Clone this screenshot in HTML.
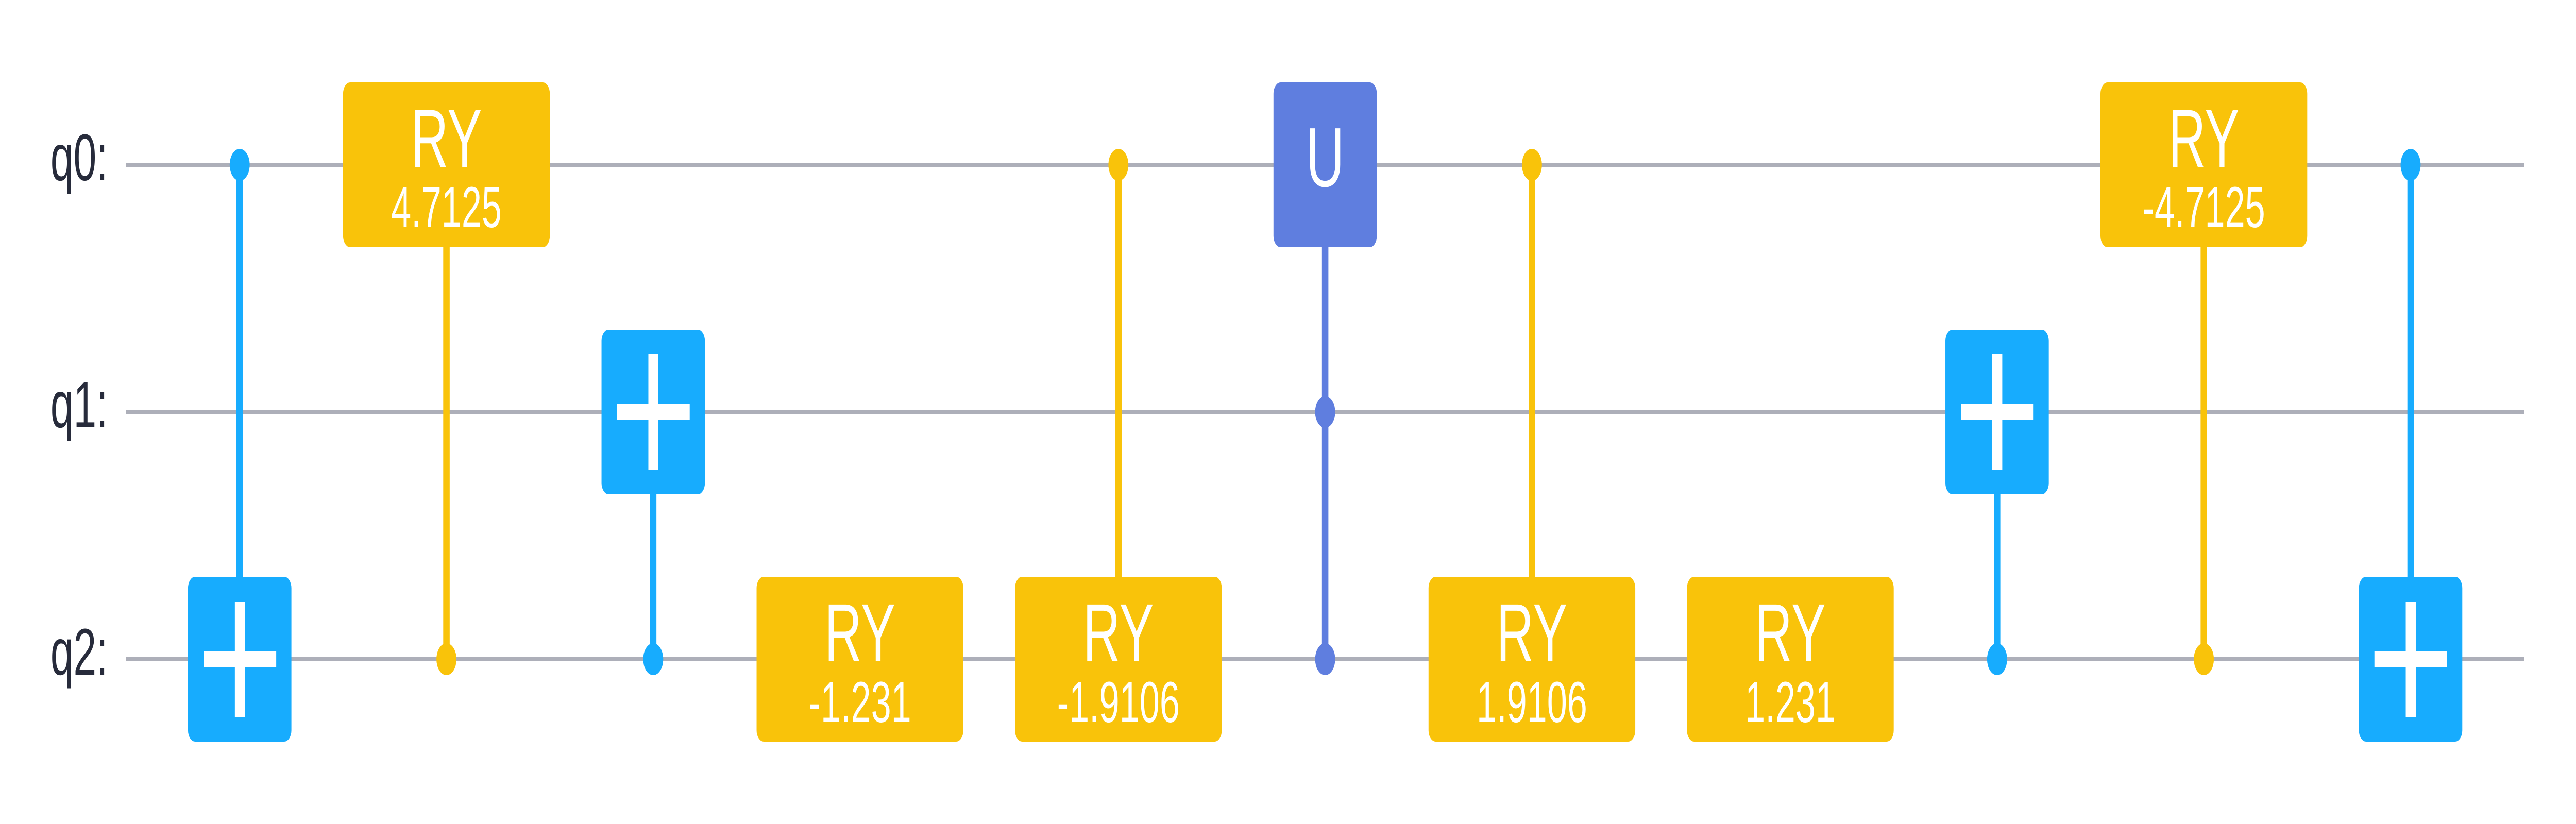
<!DOCTYPE html>
<html><head><meta charset="utf-8"><style>
html,body{margin:0;padding:0;background:#fff;width:100%;height:100%;overflow:hidden;}
svg{display:block;width:100vw;height:100vh;}
text{font-family:"Liberation Sans",sans-serif;}
</style></head><body>
<svg viewBox="0 0 7974 1600" preserveAspectRatio="none" xmlns="http://www.w3.org/2000/svg">
<rect width="7974" height="1600" fill="#fff"/>
<g stroke="#ADAFB9" stroke-width="8">
<line x1="390" y1="320" x2="7813" y2="320"/>
<line x1="390" y1="800" x2="7813" y2="800"/>
<line x1="390" y1="1280" x2="7813" y2="1280"/>
</g>
<g fill="#272B3B" font-size="128" text-anchor="end">
<text x="334" y="350">q0:</text>
<text x="334" y="830">q1:</text>
<text x="334" y="1310">q2:</text>
</g>
<g stroke-width="20">
<line x1="742" y1="320" x2="742" y2="1130" stroke="#17ACFE"/>
<line x1="1382" y1="470" x2="1382" y2="1280" stroke="#F9C30A"/>
<line x1="2022" y1="790" x2="2022" y2="1280" stroke="#17ACFE"/>
<line x1="3462" y1="320" x2="3462" y2="1130" stroke="#F9C30A"/>
<line x1="4102" y1="470" x2="4102" y2="1280" stroke="#5F7EDF"/>
<line x1="4742" y1="320" x2="4742" y2="1130" stroke="#F9C30A"/>
<line x1="6182" y1="790" x2="6182" y2="1280" stroke="#17ACFE"/>
<line x1="6822" y1="470" x2="6822" y2="1280" stroke="#F9C30A"/>
<line x1="7462" y1="320" x2="7462" y2="1130" stroke="#17ACFE"/>
</g>
<circle cx="742" cy="320" r="31" fill="#17ACFE"/>
<circle cx="1382" cy="1280" r="31" fill="#F9C30A"/>
<circle cx="2022" cy="1280" r="31" fill="#17ACFE"/>
<circle cx="3462" cy="320" r="31" fill="#F9C30A"/>
<circle cx="4102" cy="800" r="31" fill="#5F7EDF"/>
<circle cx="4102" cy="1280" r="31" fill="#5F7EDF"/>
<circle cx="4742" cy="320" r="31" fill="#F9C30A"/>
<circle cx="6182" cy="1280" r="31" fill="#17ACFE"/>
<circle cx="6822" cy="1280" r="31" fill="#F9C30A"/>
<circle cx="7462" cy="320" r="31" fill="#17ACFE"/>
<g fill="#17ACFE">
<rect x="582" y="1120" width="320" height="320" rx="22"/>
<rect x="1862" y="640" width="320" height="320" rx="22"/>
<rect x="6022" y="640" width="320" height="320" rx="22"/>
<rect x="7302" y="1120" width="320" height="320" rx="22"/>
</g>
<g fill="#fff">
<rect x="727" y="1168" width="31" height="224"/><rect x="630" y="1265" width="225" height="31"/>
<rect x="2007" y="688" width="31" height="224"/><rect x="1910" y="785" width="225" height="31"/>
<rect x="6167" y="688" width="31" height="224"/><rect x="6070" y="785" width="225" height="31"/>
<rect x="7447" y="1168" width="31" height="224"/><rect x="7350" y="1265" width="225" height="31"/>
</g>
<g fill="#F9C30A">
<rect x="1062" y="160" width="640" height="320" rx="22"/>
<rect x="2342" y="1120" width="640" height="320" rx="22"/>
<rect x="3142" y="1120" width="640" height="320" rx="22"/>
<rect x="4422" y="1120" width="640" height="320" rx="22"/>
<rect x="5222" y="1120" width="640" height="320" rx="22"/>
<rect x="6502" y="160" width="640" height="320" rx="22"/>
</g>
<rect x="3942" y="160" width="320" height="320" rx="22" fill="#5F7EDF"/>
<g fill="#fff" text-anchor="middle">
<g font-size="160">
<text x="1382" y="324">RY</text>
<text x="2662" y="1284">RY</text>
<text x="3462" y="1284">RY</text>
<text x="4742" y="1284">RY</text>
<text x="5542" y="1284">RY</text>
<text x="6822" y="324">RY</text>
<text x="4102" y="362" font-size="164">U</text>
</g>
<g font-size="112">
<text x="1382" y="441">4.7125</text>
<text x="2662" y="1402">-1.231</text>
<text x="3462" y="1402">-1.9106</text>
<text x="4742" y="1402">1.9106</text>
<text x="5542" y="1402">1.231</text>
<text x="6822" y="441">-4.7125</text>
</g>
</g>
</svg>
</body></html>
